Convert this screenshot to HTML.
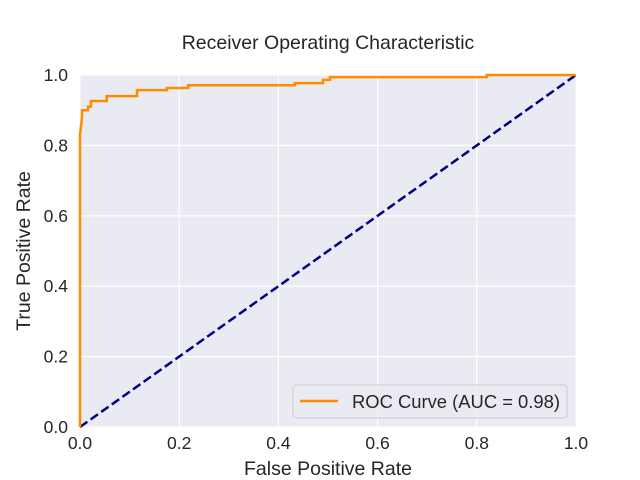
<!DOCTYPE html>
<html><head><meta charset="utf-8"><style>
body{margin:0;background:#fff}
svg{display:block;font-family:"Liberation Sans","DejaVu Sans",sans-serif}
</style></head><body>
<svg id="c" width="640" height="480">
<rect x="0" y="0" width="640" height="480" fill="#fff"/>
<rect x="80" y="75" width="496" height="352" fill="#eaeaf2"/>
<g id="grid"></g>
<g id="ticks" font-size="17.5" fill="#262626"></g>
<text x="328" y="49" text-anchor="middle" font-size="19.5" fill="#262626">Receiver Operating Characteristic</text>
<text x="328" y="475" text-anchor="middle" font-size="19.5" fill="#262626">False Positive Rate</text>
<text transform="translate(30,251) rotate(-90)" text-anchor="middle" font-size="19.5" fill="#262626">True Positive Rate</text>
<g id="series"></g>
<g>
<rect x="293" y="385" width="274" height="33" rx="3" fill="#eaeaf2" fill-opacity="0.8" stroke="#cccccc"/>
<line x1="300" y1="401" x2="338" y2="401" stroke="#ff8c00" stroke-width="2.5"/>
<text x="352" y="408" font-size="18.4" fill="#262626">ROC Curve (AUC = 0.98)</text>
</g>
</svg>
<script>
const xTicks=[0,0.2,0.4,0.6,0.8,1.0];
const yTicks=[0,0.2,0.4,0.6,0.8,1.0];
const fpr=[0,0,0.004,0.004,0.016,0.016,0.022,0.022,0.054,0.054,0.115,0.115,0.175,0.175,0.218,0.218,0.433,0.433,0.49,0.49,0.504,0.504,0.82,0.82,1.0];
const tpr=[0,0.83,0.88,0.90,0.90,0.91,0.91,0.926,0.926,0.94,0.94,0.957,0.957,0.963,0.963,0.971,0.971,0.977,0.977,0.986,0.986,0.994,0.994,1.0,1.0];
const chance=[0,1];
const X=v=>80+v*496, Y=v=>427-v*352;
const ns="http://www.w3.org/2000/svg";
const g=document.getElementById('grid'),t=document.getElementById('ticks'),s=document.getElementById('series');
function mk(tag,a,p){const e=document.createElementNS(ns,tag);for(const k in a)e.setAttribute(k,a[k]);p.appendChild(e);return e;}
xTicks.forEach(v=>{
 const l=mk('line',{x1:X(v),x2:X(v),y1:75,y2:427,stroke:'#fff','stroke-width':1.2},g);
 
 
 const tx=mk('text',{x:X(v),y:449,'text-anchor':'middle'},t);tx.textContent=v.toFixed(1);
 
 
});
yTicks.forEach(v=>{
 const l=mk('line',{x1:80,x2:576,y1:Y(v),y2:Y(v),stroke:'#fff','stroke-width':1.2},g);
 
 
 const tx=mk('text',{x:68,y:Y(v)+6,'text-anchor':'end'},t);tx.textContent=v.toFixed(1);
 
 
});
const d=mk('line',{x1:X(chance[0]),y1:Y(chance[0]),x2:X(chance[1]),y2:Y(chance[1]),stroke:'#000080','stroke-width':2.5,'stroke-dasharray':'9,4'},s);


const p=mk('polyline',{points:fpr.map((f,i)=>X(f)+','+Y(tpr[i])).join(' '),fill:'none',stroke:'#ff8c00','stroke-width':2.5},s);


</script>
</body></html>
